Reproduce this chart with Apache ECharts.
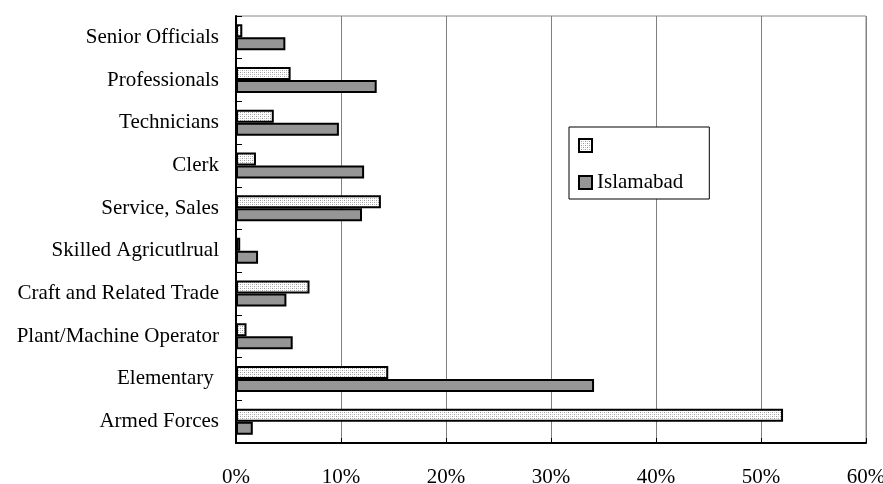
<!DOCTYPE html>
<html>
<head>
<meta charset="utf-8">
<script src="https://cdn.jsdelivr.net/npm/echarts@6/dist/echarts.min.js"></script>
<style>
html,body{margin:0;padding:0;background:#fff;}
#chart{width:883px;height:484px;}
</style>
</head>
<body>
<div id="chart"></div>
<script>
// Occupation groups, listed top to bottom
const categories = [
  'Senior Officials', 'Professionals', 'Technicians', 'Clerk', 'Service, Sales',
  'Skilled Agricutlrual', 'Craft and Related Trade', 'Plant/Machine Operator',
  'Elementary ', 'Armed Forces'
];
// Share of employed (%) — unnamed comparison series
const otherValues = [0.6, 5.2, 3.6, 1.9, 13.8, 0.4, 7.0, 1.0, 14.5, 52.1];
// Share of employed (%) — Islamabad
const islamabadValues = [4.7, 13.4, 9.8, 12.2, 12.0, 2.1, 4.8, 5.4, 34.1, 1.6];
const xTicks = [0, 10, 20, 30, 40, 50, 60];

// Fine stipple fill for the unnamed series
function stipple() {
  const c = document.createElement('canvas');
  c.width = 4; c.height = 4;
  const g = c.getContext('2d');
  g.fillStyle = '#ffffff';
  g.fillRect(0, 0, 4, 4);
  g.fillStyle = '#9a9a9a';
  g.fillRect(0, 0, 1, 1);
  g.fillRect(2, 2, 1, 1);
  g.fillStyle = '#c8c8c8';
  g.fillRect(2, 0, 1, 1);
  g.fillRect(0, 2, 1, 1);
  return c;
}

const font = 'Liberation Serif';
const chart = echarts.init(document.getElementById('chart'));
chart.setOption({
  animation: false,
  backgroundColor: '#ffffff',
  grid: {
    left: 236, right: 17, top: 16, bottom: 41,
    show: true, borderColor: '#888888', borderWidth: 1,
    containLabel: false,
    outerBoundsMode: 'none'
  },
  legend: {
    orient: 'vertical',
    left: 569, top: 127,
    padding: [8, 26, 6, 9],
    backgroundColor: '#ffffff',
    borderColor: '#000000',
    borderWidth: 1,
    itemWidth: 13, itemHeight: 13,
    itemGap: 16,
    icon: 'rect',
    itemStyle: { borderColor: '#000', borderWidth: 2 },
    textStyle: { fontFamily: font, fontSize: 21, color: '#000' },
    data: [' ', 'Islamabad']
  },
  xAxis: {
    type: 'value',
    min: xTicks[0], max: xTicks[xTicks.length - 1], interval: 10,
    axisLine: { show: true, lineStyle: { color: '#000', width: 2 } },
    axisTick: { show: true, inside: true, length: 5, lineStyle: { color: '#000' } },
    splitLine: { show: true, lineStyle: { color: '#808080', width: 1 } },
    axisLabel: {
      margin: 24,
      fontFamily: font, fontSize: 21, color: '#000',
      formatter: v => v + '%'
    }
  },
  yAxis: {
    type: 'category',
    inverse: true,
    data: categories,
    axisLine: { show: true, lineStyle: { color: '#000', width: 2 } },
    axisTick: { show: true, inside: true, length: 6, lineStyle: { color: '#000' } },
    splitLine: { show: false },
    axisLabel: { margin: 17, fontFamily: font, fontSize: 21, color: '#000' }
  },
  series: [
    {
      name: ' ',
      type: 'bar',
      data: otherValues,
      barWidth: 13,
      barGap: '0%',
      itemStyle: {
        color: { image: stipple(), repeat: 'repeat' },
        borderColor: '#000', borderWidth: 2
      }
    },
    {
      name: 'Islamabad',
      type: 'bar',
      data: islamabadValues,
      barWidth: 13,
      barGap: '0%',
      itemStyle: { color: '#969696', borderColor: '#000', borderWidth: 2 }
    }
  ]
});
</script>
</body>
</html>
